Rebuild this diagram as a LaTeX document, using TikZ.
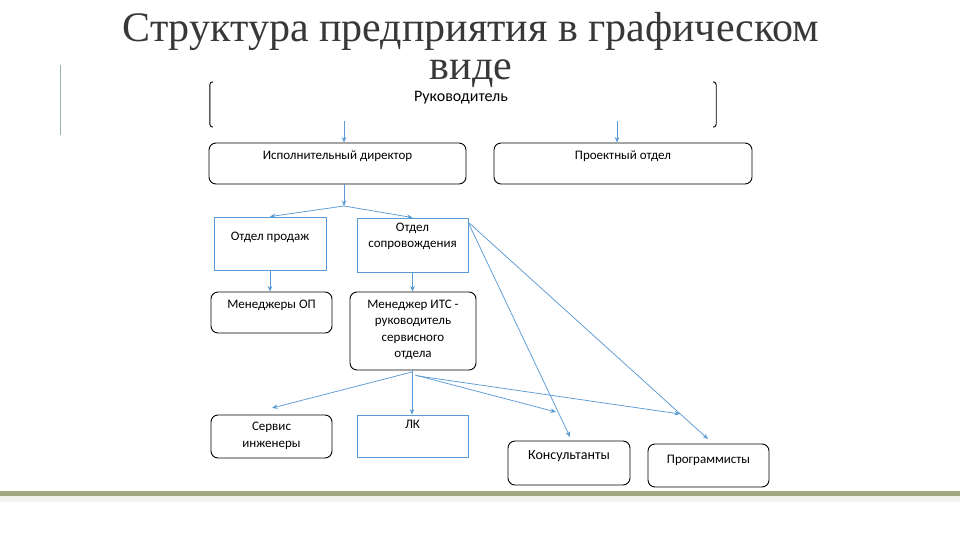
\documentclass[tikz,border=0pt]{standalone}
\usepackage{fontspec}
\setmainfont{Carlito}
\newfontfamily\titlefont{Liberation Serif}
\usetikzlibrary{arrows.meta}
\definecolor{arrowblue}{HTML}{5B9BD5}
\definecolor{boxblue}{HTML}{5B9BD5}
\definecolor{olive}{HTML}{A0A67E}
\definecolor{titlegray}{HTML}{383838}
\begin{document}
\begin{tikzpicture}[x=1pt,y=-1pt,
  rbox/.style={draw=black, line width=0.9pt, rounded corners=7pt, inner sep=0pt},
  bbox/.style={draw=boxblue, line width=0.8pt, inner sep=0pt},
  lbl/.style={font=\fontsize{13}{16}\selectfont, align=center, anchor=north, inner sep=0pt},
  ttl/.style={font=\titlefont\fontsize{42}{38}\selectfont, text=titlegray, inner sep=0pt, align=center, anchor=north},
  conn/.style={draw=arrowblue, line width=0.75pt, -{Stealth[length=5.5pt,width=4.5pt]}}]
\useasboundingbox (0,0) rectangle (960,540);
\fill[white] (0,0) rectangle (960,540);
% title
\node[ttl] (title) at (471,12) {Структура предприятия в графическом\\виде};
% left accent line
\draw[color=gray!60!teal!60, line width=1pt] (60,65) -- (60,135);
% bottom bar
\fill[olive] (0,491) rectangle (960,496);
\fill[olive!15] (0,496) rectangle (960,502);
% boxes
\node[minimum width=506pt, minimum height=39pt, inner sep=0pt] (ruk) at (463,101.5) {};
\node[lbl, font=\fontsize{16}{18}\selectfont] (rukl) at (461,91.5) {Руководитель};
\draw[line width=0.9pt] ([xshift=3pt]ruk.north west) arc[start angle=90, end angle=180, radius=3pt] -- ([yshift=-3pt]ruk.south west) arc[start angle=180, end angle=270, radius=3pt];
\draw[line width=0.9pt] ([xshift=-3pt]ruk.north east) arc[start angle=90, end angle=0, radius=3pt] -- ([yshift=-3pt]ruk.south east) arc[start angle=0, end angle=-90, radius=3pt];

\node[rbox, minimum width=257pt, minimum height=41pt, label={[lbl, name=ispl, yshift=-8pt]north:Исполнительный директор}] (isp) at (337.5,163.5) {};
\node[rbox, minimum width=258pt, minimum height=41pt, label={[lbl, name=proektl, yshift=-8pt]north:Проектный отдел}] (proekt) at (623,163.5) {};

\node[bbox, minimum width=112pt, minimum height=53pt, label={[lbl, name=prodl, yshift=-15pt]north:Отдел продаж}] (prod) at (270,243.5) {};
\node[bbox, minimum width=111pt, minimum height=54pt, label={[lbl, name=soprl, yshift=-5pt]north:Отдел\\сопровождения}] (sopr) at (412.5,245) {};

\node[rbox, minimum width=121pt, minimum height=41pt, label={[lbl, name=menl, yshift=-8pt]north:Менеджеры ОП}] (men) at (271.5,312.5) {};
\node[rbox, minimum width=126pt, minimum height=78pt, label={[lbl, name=itsl, yshift=-8pt, font=\fontsize{13}{16.5}\selectfont]north:Менеджер ИТС -\\руководитель\\сервисного\\отдела}] (its) at (413,331) {};

\node[rbox, minimum width=121pt, minimum height=43pt, label={[lbl, name=servl, yshift=-7pt, font=\fontsize{13}{17}\selectfont]north:Сервис\\инженеры}] (serv) at (271.5,436.5) {};
\node[bbox, minimum width=111pt, minimum height=42pt, label={[lbl, name=lkl, yshift=-5pt]north:ЛК}] (lk) at (412.5,436) {};
\node[rbox, minimum width=122pt, minimum height=44pt, label={[lbl, name=konsl, yshift=-10pt, font=\fontsize{14}{16}\selectfont]north:Консультанты}] (kons) at (569,463) {};
\node[rbox, minimum width=121pt, minimum height=43pt, label={[lbl, name=progl, yshift=-11pt]north:Программисты}] (prog) at (708.5,465.5) {};

% column coordinates
\coordinate (c1) at (344,0);
\coordinate (c2) at (617,0);
% connectors
\draw[conn] (c1 |- ruk.south) -- (c1 |- isp.north);
\draw[conn] (c2 |- ruk.south) -- (c2 |- proekt.north);
\coordinate (split) at (344,206);
\draw[conn] (c1 |- isp.south) -- (split);
\draw[conn] (split) -- (prod.north);
\draw[conn] (split) -- (sopr.north);
\draw[conn] (prod.south) -- (prod.south |- men.north);
\draw[conn] (sopr.south) -- (sopr.south |- its.north);

\coordinate (itsout) at (412,372);
\draw[conn] (its.south -| itsout) -- (itsout |- lk.north);
\coordinate (sEnd) at (272,408);
\draw[conn] (itsout) -- (sEnd);
\coordinate (kStart) at (415,375);
\coordinate (pStart) at (418,376);
\coordinate (kEnd) at (556,412);
\coordinate (pEnd) at (680,414);
\draw[conn] (kStart) -- (kEnd);
\draw[conn] (pStart) -- (pEnd);
\coordinate (soprc) at (468,222);
\coordinate (k2End) at (570,437);
\coordinate (p2End) at (708,439);
\draw[conn] (soprc) -- (k2End);
\draw[conn] (soprc) -- (p2End);
\end{tikzpicture}
\end{document}
